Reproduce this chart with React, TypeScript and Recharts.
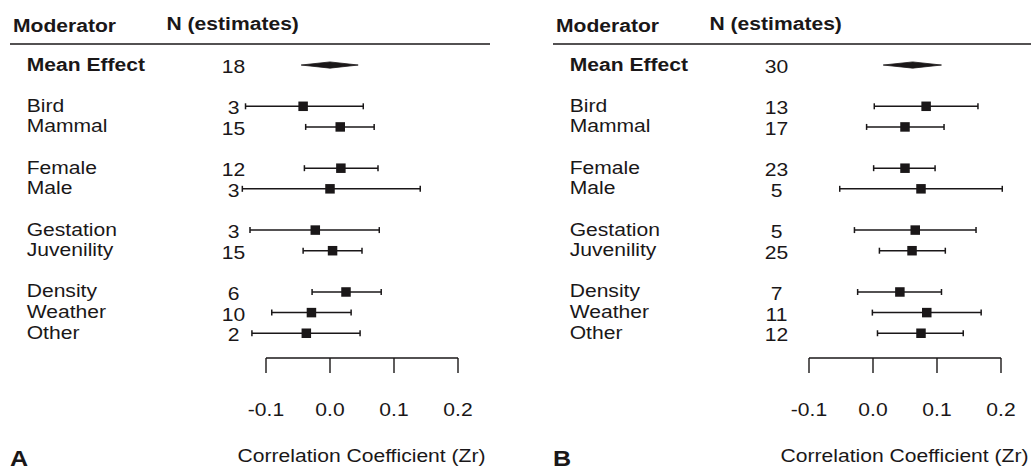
import React from 'react';
import {
  ScatterChart,
  Scatter,
  XAxis,
  YAxis,
  ErrorBar,
  ReferenceLine,
  Customized,
} from 'recharts';

const moderators = [
  'Mean Effect',
  'Bird',
  'Mammal',
  'Female',
  'Male',
  'Gestation',
  'Juvenility',
  'Density',
  'Weather',
  'Other',
];
// which block each moderator sits in; blocks are split by a blank row
const groups = [0, 1, 1, 2, 2, 3, 3, 4, 4, 4];
const zrTicks = [-0.1, 0, 0.1, 0.2];

// panel A
const nA = [18, 3, 15, 12, 3, 3, 15, 6, 10, 2];
const estA = [0.0, -0.042, 0.016, 0.017, 0.0, -0.023, 0.004, 0.025, -0.029, -0.037];
const loA = [-0.045, -0.132, -0.038, -0.04, -0.137, -0.125, -0.042, -0.028, -0.091, -0.122];
const hiA = [0.044, 0.052, 0.069, 0.075, 0.141, 0.077, 0.05, 0.08, 0.033, 0.047];

// panel B
const nB = [30, 13, 17, 23, 5, 5, 25, 7, 11, 12];
const estB = [0.062, 0.083, 0.05, 0.05, 0.075, 0.066, 0.061, 0.042, 0.084, 0.075];
const loB = [0.016, 0.002, -0.01, 0.001, -0.052, -0.029, 0.01, -0.024, -0.001, 0.007];
const hiB = [0.107, 0.164, 0.111, 0.097, 0.202, 0.161, 0.113, 0.107, 0.169, 0.141];

const rows = moderators.map((_, i) => i + groups[i]);

const FONT = '"Liberation Sans", Arial, Helvetica, sans-serif';
const INK = '#1a1718';
const Y_MIN = -1;
const Y_MAX = 14.2;
const DIAMOND_H = 0.15;

const T = ({ x, y, children, anchor = 'start', bold = false, size = 18.5 }: any) => (
  <text
    transform={`translate(${x},${y}) scale(1.14,1)`}
    textAnchor={anchor}
    fontFamily={FONT}
    fontSize={size}
    fontWeight={bold ? 'bold' : 'normal'}
    fill={INK}
  >
    {children}
  </text>
);

interface ForestProps {
  n: number[];
  est: number[];
  lo: number[];
  hi: number[];
  letter: string;
}

const Forest: React.FC<ForestProps> = ({ n, est, lo, hi, letter }) => {
  const points = moderators.slice(1).map((_, k) => {
    const i = k + 1;
    return { x: est[i], y: rows[i], err: [est[i] - lo[i], hi[i] - est[i]] };
  });
  const diamond = [
    { x: lo[0], y: rows[0] },
    { x: est[0], y: rows[0] - DIAMOND_H },
    { x: hi[0], y: rows[0] },
    { x: est[0], y: rows[0] + DIAMOND_H },
  ];

  const rowTick = (p: any) => {
    const i = rows.indexOf(Math.round(p.payload.value));
    if (i < 0) return <g />;
    return (
      <g>
        <T x={26.7} y={p.y + 5.5} bold={i === 0}>
          {moderators[i]}
        </T>
        <T x={233.5} y={p.y + 8} anchor="middle">
          {n[i]}
        </T>
      </g>
    );
  };

  const zrTick = (p: any) => (
    <g>
      <line x1={p.x} x2={p.x} y1={p.y} y2={p.y + 15} stroke={INK} strokeWidth={1.4} />
      <T x={p.x} y={p.y + 58} anchor="middle">
        {Number(p.payload.value).toFixed(1)}
      </T>
    </g>
  );

  const drawDiamond = (p: any) => (
    <polygon
      points={(p.points || []).map((q: any) => `${q.x},${q.y}`).join(' ')}
      fill={INK}
      stroke={INK}
      strokeWidth={0.8}
    />
  );

  return (
    <ScatterChart
      width={490}
      height={472}
      margin={{ top: 44.4, right: 6.4, bottom: 0, left: 0 }}
    >
      <XAxis
        type="number"
        dataKey="x"
        domain={[-0.15, 0.24]}
        ticks={zrTicks}
        interval={0}
        axisLine={false}
        tickLine={false}
        tickSize={0}
        tickMargin={0}
        height={114}
        tick={zrTick}
      />
      <YAxis
        type="number"
        dataKey="y"
        domain={[Y_MIN, Y_MAX]}
        reversed
        ticks={rows}
        interval={0}
        axisLine={false}
        tickLine={false}
        width={234}
        tick={rowTick}
      />
      <ReferenceLine
        segment={[
          { x: -0.1, y: Y_MAX },
          { x: 0.2, y: Y_MAX },
        ]}
        stroke={INK}
        strokeWidth={1.4}
        ifOverflow="visible"
      />
      <Scatter
        data={diamond}
        line={drawDiamond}
        shape={() => <g />}
        isAnimationActive={false}
      />
      <Scatter
        data={points}
        fill={INK}
        isAnimationActive={false}
        shape={(p: any) => (
          <rect x={p.cx - 4.75} y={p.cy - 4.75} width={9.5} height={9.5} fill={INK} />
        )}
      >
        <ErrorBar
          dataKey="err"
          direction="x"
          width={3}
          stroke={INK}
          strokeWidth={1.5}
        />
      </Scatter>
      <Customized
        component={() => (
          <g>
            <T x={13} y={31.5} bold>
              Moderator
            </T>
            <T x={166.5} y={29.5} bold>
              N (estimates)
            </T>
            <line x1={10} x2={490} y1={44} y2={44} stroke={INK} strokeWidth={1.4} />
            <T x={361.5} y={461.5} anchor="middle">
              Correlation Coefficient (Zr)
            </T>
            <T x={10} y={466} bold size={22}>
              {letter}
            </T>
          </g>
        )}
      />
    </ScatterChart>
  );
};

export default function App() {
  return (
    <div
      style={{
        position: 'absolute',
        left: 0,
        top: 0,
        width: 1031,
        height: 472,
        overflow: 'hidden',
        background: '#fff',
      }}
    >
      <div style={{ position: 'absolute', left: 0, top: 0 }}>
        <Forest n={nA} est={estA} lo={loA} hi={hiA} letter="A" />
      </div>
      <div style={{ position: 'absolute', left: 543.3, top: 0 }}>
        <Forest n={nB} est={estB} lo={loB} hi={hiB} letter="B" />
      </div>
    </div>
  );
}
